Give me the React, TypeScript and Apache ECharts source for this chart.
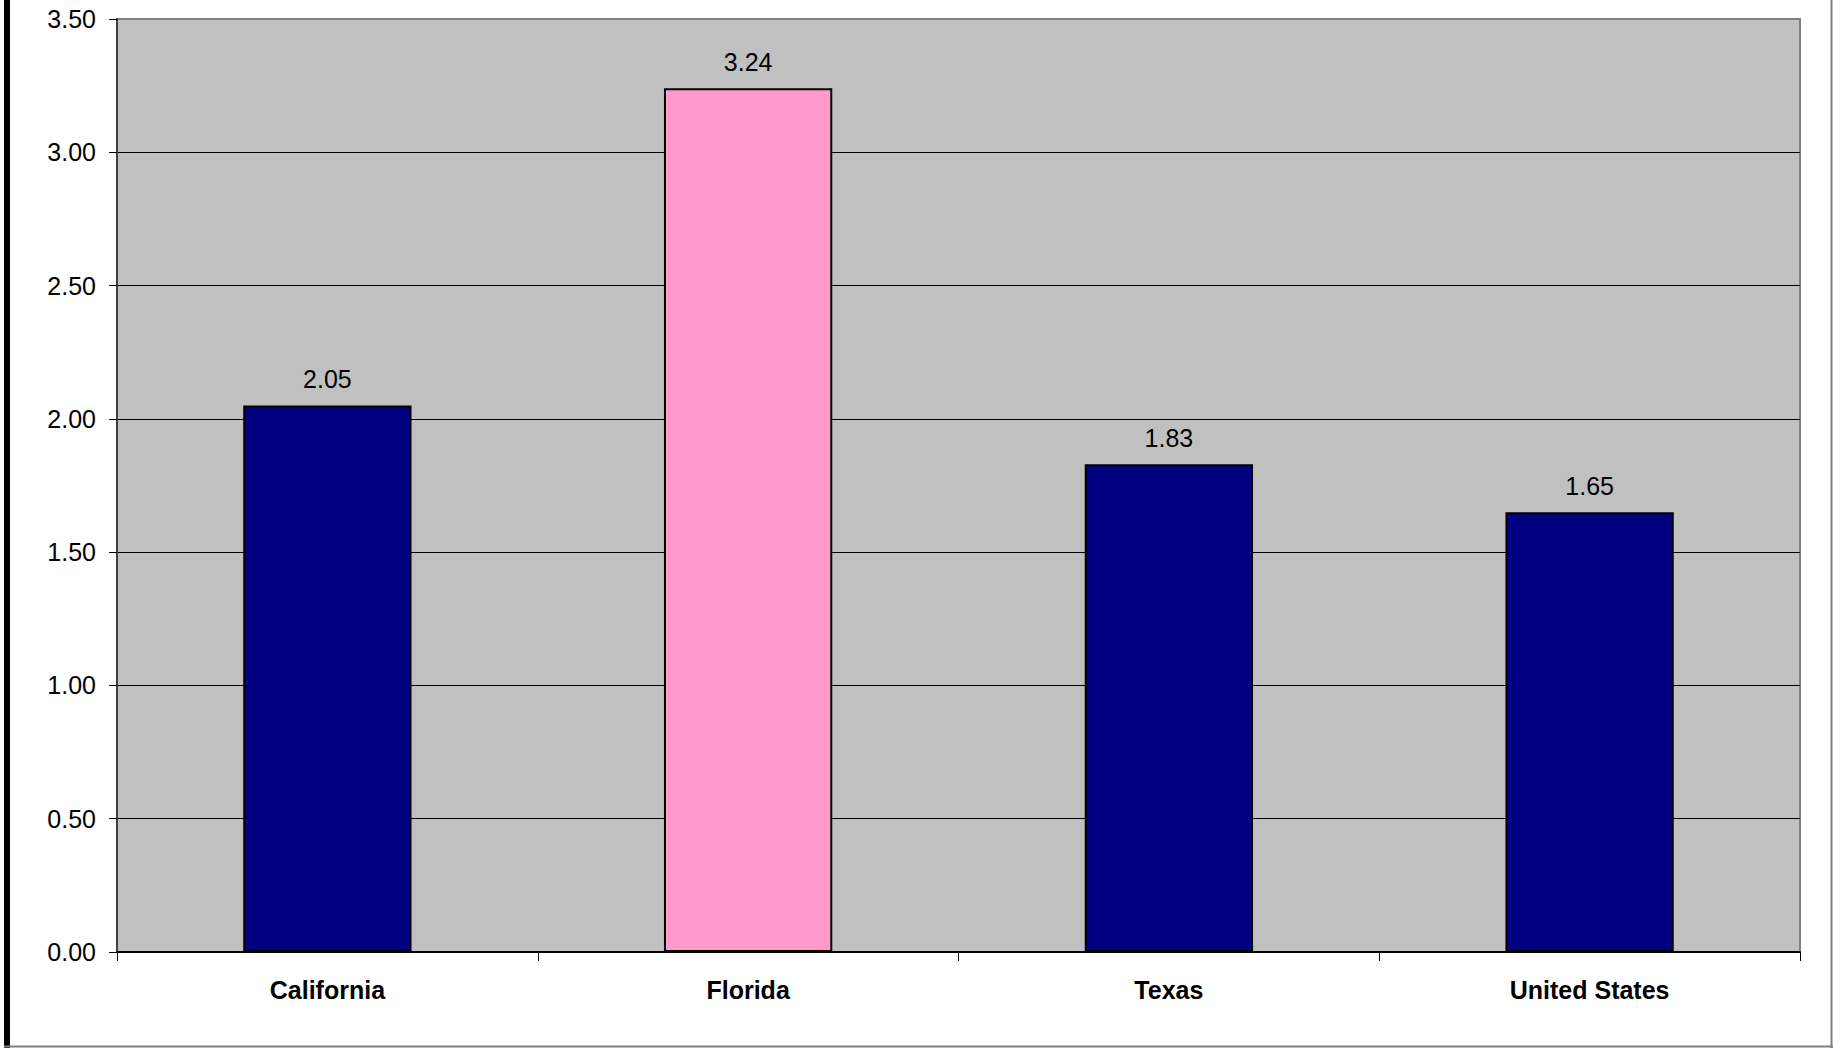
import React, { useEffect, useRef } from "react";
import * as echarts from "echarts";

const categories = ["California", "Florida", "Texas", "United States"];
const values = [2.05, 3.24, 1.83, 1.65];
const barColors = ["#000080", "#FF99CC", "#000080", "#000080"];
const yTicks = { min: 0, max: 3.5, interval: 0.5 };

const FONT = "'Liberation Sans', Arial, sans-serif";

export default function App() {
  const ref = useRef<HTMLDivElement>(null);
  useEffect(() => {
    document.body.style.margin = "0";
    const chart = echarts.init(ref.current!, null, { renderer: "svg" });
    chart.setOption({
      animation: false,
      backgroundColor: "#ffffff",
      textStyle: { fontFamily: FONT },
      grid: {
        left: 117,
        top: 19,
        right: 33,
        bottom: 96,
        show: true,
        backgroundColor: "#C0C0C0",
        borderColor: "#808080",
        borderWidth: 2,
      },
      xAxis: {
        type: "category",
        data: categories,
        boundaryGap: true,
        axisLine: { show: true, lineStyle: { color: "#000000", width: 2 } },
        axisTick: { show: true, alignWithLabel: false, length: 9, lineStyle: { color: "#000000", width: 1 } },
        axisLabel: { color: "#000000", fontSize: 25, fontWeight: "bold", fontFamily: FONT, margin: 25 },
        splitLine: { show: false },
      },
      yAxis: {
        type: "value",
        min: yTicks.min,
        max: yTicks.max,
        interval: yTicks.interval,
        axisLine: { show: true, lineStyle: { color: "#404040", width: 2 } },
        axisTick: { show: true, length: 8, lineStyle: { color: "#000000", width: 1 } },
        axisLabel: {
          color: "#000000",
          fontSize: 25,
          fontFamily: FONT,
          margin: 21,
          formatter: (v: number) => v.toFixed(2),
        },
        splitLine: { show: true, showMaxLine: false, lineStyle: { color: "#000000", width: 1 } },
      },
      series: [
        {
          type: "bar",
          barCategoryGap: "60%",
          data: values.map((v, i) => ({
            value: v,
            itemStyle: { color: barColors[i], borderColor: "#000000", borderWidth: 2 },
          })),
          label: {
            show: true,
            position: "top",
            distance: 14,
            color: "#000000",
            fontSize: 25,
            fontFamily: FONT,
            formatter: (p: any) => Number(p.value).toFixed(2),
          },
        },
      ],
      graphic: [
        { type: "rect", shape: { x: 4, y: 0, width: 6, height: 1048 }, style: { fill: "#000000" }, z: 100 },
        { type: "line", shape: { x1: 4, y1: 1046.5, x2: 1833, y2: 1046.5 }, style: { stroke: "#808080", lineWidth: 2 }, z: 100 },
        { type: "line", shape: { x1: 1831.5, y1: 0, x2: 1831.5, y2: 1048 }, style: { stroke: "#808080", lineWidth: 2 }, z: 100 },
      ],
    });
    return () => chart.dispose();
  }, []);
  return <div ref={ref} style={{ position: "absolute", left: 0, top: 0, width: 1833, height: 1048 }} />;
}
